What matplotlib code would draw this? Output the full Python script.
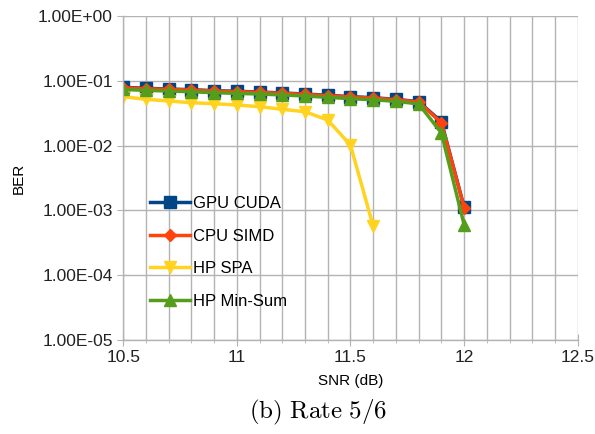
import matplotlib.pyplot as plt
from matplotlib.ticker import FuncFormatter, MultipleLocator

plt.rcParams['font.family'] = ['Liberation Sans', 'DejaVu Sans']
plt.rcParams['mathtext.fontset'] = 'cm'

snr = [10.5, 10.6, 10.7, 10.8, 10.9, 11.0, 11.1, 11.2, 11.3, 11.4, 11.5, 11.6, 11.7, 11.8, 11.9, 12.0]
snr_spa = [10.5, 10.6, 10.7, 10.8, 10.9, 11.0, 11.1, 11.2, 11.3, 11.4, 11.5, 11.6]

ber_gpu = [0.0794, 0.0766, 0.0747, 0.0729, 0.0703, 0.0689, 0.0671, 0.0649, 0.0625, 0.0597, 0.0569, 0.0548, 0.0518, 0.0476, 0.0234, 0.00112]
ber_cpu = [0.0780, 0.0755, 0.0737, 0.0720, 0.0695, 0.0680, 0.0662, 0.0640, 0.0617, 0.0590, 0.0562, 0.0540, 0.0512, 0.0470, 0.0225, 0.00110]
ber_spa = [0.0569, 0.0518, 0.0488, 0.0459, 0.0443, 0.0423, 0.0399, 0.0363, 0.0333, 0.0248, 0.0102, 0.00057]
ber_minsum = [0.0735, 0.0712, 0.0695, 0.0678, 0.0655, 0.0640, 0.0625, 0.0605, 0.0582, 0.0556, 0.0530, 0.0510, 0.0482, 0.0440, 0.0157, 0.00060]

fig = plt.figure(figsize=(5.95, 4.34), dpi=100)
ax = fig.add_axes([0.207, 0.217, 0.764, 0.746])

ax.plot(snr, ber_gpu, color='#004586', lw=2.5, marker='s', ms=8, label='GPU CUDA')
ax.plot(snr, ber_cpu, color='#ff420e', lw=2.5, marker='D', ms=6, label='CPU SIMD')
ax.plot(snr_spa, ber_spa, color='#ffd320', lw=2.5, marker='v', ms=9, label='HP SPA')
ax.plot(snr, ber_minsum, color='#579d1c', lw=2.5, marker='^', ms=9, label='HP Min-Sum')

ax.set_yscale('log')
ax.set_ylim(1e-5, 1)
ax.set_xlim(10.5, 12.5)
ax.xaxis.set_major_locator(MultipleLocator(0.5))
ax.xaxis.set_minor_locator(MultipleLocator(0.1))
ax.xaxis.set_major_formatter(FuncFormatter(lambda v, p: f'{v:g}'))
ax.yaxis.set_major_formatter(FuncFormatter(lambda v, p: f'{v:.2E}'))
ax.yaxis.set_minor_locator(plt.NullLocator())

ax.grid(True, which='both', axis='x', color='#b3b3b3', lw=1)
ax.grid(True, which='major', axis='y', color='#b3b3b3', lw=1)
ax.set_axisbelow(True)
for s in ['top', 'right']:
    ax.spines[s].set_visible(False)
for s in ['left', 'bottom']:
    ax.spines[s].set_color('#b3b3b3')
    ax.spines[s].set_linewidth(1)
ax.tick_params(which='both', direction='inout', color='#b3b3b3', labelsize=12.5, labelcolor='#222222')
ax.tick_params(which='major', length=8)
ax.tick_params(which='minor', length=5)

ax.set_xlabel('SNR (dB)', fontsize=11, labelpad=6)
ax.set_ylabel('BER', fontsize=11, labelpad=9)

ax.legend(loc='upper left', bbox_to_anchor=(0.025, 0.49), frameon=False, fontsize=12,
          handlelength=2.4, handletextpad=0.2, labelspacing=1.05)

fig.text(0.535, 0.035, r'$\mathrm{(b)\ Rate\ 5/6}$', ha='center', fontsize=18)

fig.savefig('out.png', dpi=100)
